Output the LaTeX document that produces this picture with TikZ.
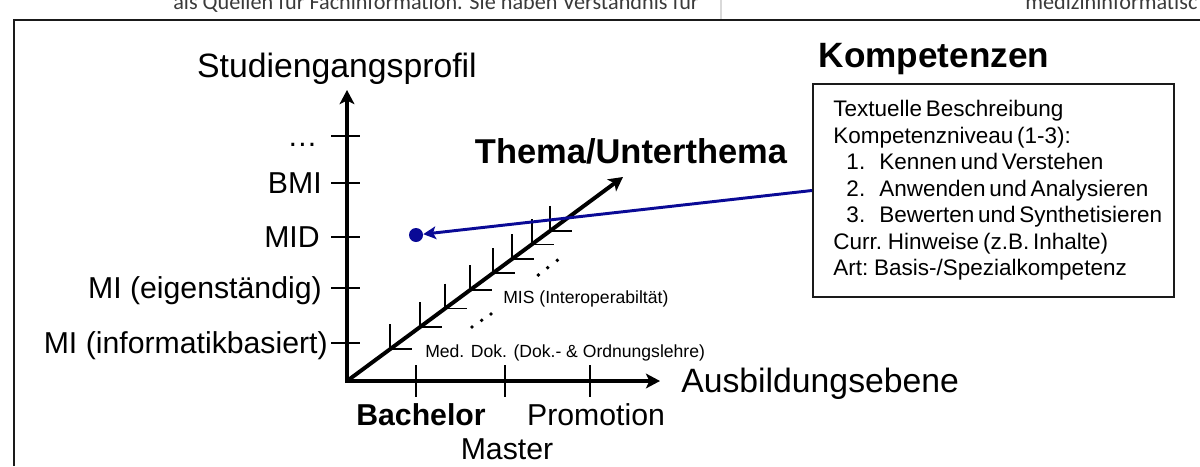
\documentclass[tikz,border=0pt]{standalone}
\usepackage{fontspec}
\setmainfont{Liberation Sans}
\newfontfamily\docfont{Carlito}
\usepackage{tikz}
\usetikzlibrary{arrows.meta, calc}
\definecolor{kompblue}{HTML}{0A0A96}
\definecolor{docgray}{HTML}{3A3A3A}
\definecolor{frameblack}{HTML}{1A1A1A}
\newcommand{\kompfont}{\fontsize{16}{18.85}\selectfont\spaceskip=0.17em plus 0.05em\relax}

\begin{document}
\begin{tikzpicture}[
  x=0.025cm, y=-0.025cm,
  every node/.style={inner sep=0pt},
  >={Stealth[length=10pt, width=10.5pt, inset=2.5pt]},
  axes/.style={line width=2.8pt, <->},
  axisarrow/.style={line width=2.8pt, ->},
  axistick/.style={line width=1.4pt},
  diagtick/.style={line width=1.1pt},
  axislabel/.style={font=\fontsize{24}{28}\selectfont},
  ticklabel/.style={font=\fontsize{21.5}{25}\selectfont, anchor=base east},
  levellabel/.style={font=\fontsize{21.5}{25}\selectfont, anchor=base},
  levelbold/.style={font=\fontsize{21.5}{25}\selectfont\bfseries, anchor=base},
  titlelabel/.style={font=\fontsize{24.5}{28}\selectfont\bfseries, anchor=base},
  themelabel/.style={font=\fontsize{12.5}{15}\selectfont, anchor=base west},
  docline/.style={font=\docfont\fontsize{15.8}{18}\selectfont, text=docgray, anchor=base west},
  kompbox/.style={draw=frameblack, line width=1.3pt,
                  minimum width=9.025cm, minimum height=5.325cm},
  komptext/.style={font=\kompfont, align=left, anchor=west},
  pointer/.style={draw=kompblue, line width=2.1pt,
                  -{Stealth[length=9pt, width=9pt, inset=2pt]}},
  marker/.style={circle, fill=kompblue, minimum size=0.35cm}
]
\useasboundingbox (0,0) rectangle (1200,466);

% Document strip above the frame
\begin{scope}
  \clip (0,0) rectangle (1200,19);
  \node[docline] (doctext) at (173,10) {als Quellen für Fachinformation. Sie haben Verständnis für};
  \node[docline] (docnext) at (1025,10) {medizininformatisc};
  \draw[black!15, line width=0.8pt] (721,0) -- (721,19);
\end{scope}

% Frame
\draw[frameblack, line width=1.4pt] (14,466) -- (14,20) -- (1200,20);

% Axes
\coordinate (origin) at (347,381);
\coordinate (ytip) at (347,90);
\coordinate (xtip) at (660,381);
\coordinate (dtip) at (623,177);
\draw[axes] (ytip) -- (origin) -- (xtip);
\draw[axisarrow] (origin) -- (dtip);

% Studiengangsprofil ticks
\foreach \y/\x/\lab in {136/318/{…}, 183/322/BMI, 237/320/MID,
                        288/322/{MI (eigenständig)}, 343/328/{MI (informatikbasiert)}} {
  \draw[axistick] (331,\y) -- (360,\y);
  \node[ticklabel] (prof\y) at (\x,\y+10) {\lab};
}

% Ausbildungsebene ticks
\foreach \x in {416,505,590}
  \draw[axistick] (\x,365) -- (\x,397);

% Thema ticks along the diagonal
\foreach \t in {0.156,0.264,0.355,0.446,0.529,0.598,0.670,0.736}
  \draw[diagtick] ($(origin)!\t!(dtip)$) +(0,-25) -- +(0,0) -- +(22,0);
\foreach \p in {(472,327),(481.7,320.3),(491,314),(538.3,275),(547.7,267.7),(557.3,260.3)}
  \fill \p circle[radius=1.4pt];

% Axis labels
\node[axislabel, anchor=base] (ylabel) at (337,78) {Studiengangsprofil};
\node[axislabel, anchor=base west] (xlabel) at (681,392) {Ausbildungsebene};
\node[titlelabel] (theme) at (631,163) {Thema/Unterthema};
\node[levelbold] (bachelor) at (421,425) {Bachelor};
\node[levellabel] (promotion) at (596,425) {Promotion};
\node[levellabel] (master) at (507,459) {Master};
\node[themelabel] (meddok) at (425,357) {Med. Dok. (Dok.- \& Ordnungslehre)};
\node[themelabel] (mis) at (503,303) {MIS (Interoperabiltät)};

% Kompetenzen
\node[titlelabel, font=\fontsize{25}{30}\selectfont\bfseries] (komptitle) at (934,67) {Kompetenzen};
\node[kompbox] (komp) at (993.5,190.5) {};
\node[komptext] (komplist) at (833,190.5) {Textuelle Beschreibung\\
  Kompetenzniveau (1-3):\\
  \hspace*{0.33cm}1.\hspace{0.35cm}Kennen und Verstehen\\
  \hspace*{0.33cm}2.\hspace{0.35cm}Anwenden und Analysieren\\
  \hspace*{0.33cm}3.\hspace{0.35cm}Bewerten und Synthetisieren\\
  Curr. Hinweise (z.B. Inhalte)\\
  Art: Basis-/Spezialkompetenz};

% Pointer
\node[marker] (dot) at (416,235) {};
\draw[pointer] (komp.west) -- (dot);

\end{tikzpicture}
\end{document}
